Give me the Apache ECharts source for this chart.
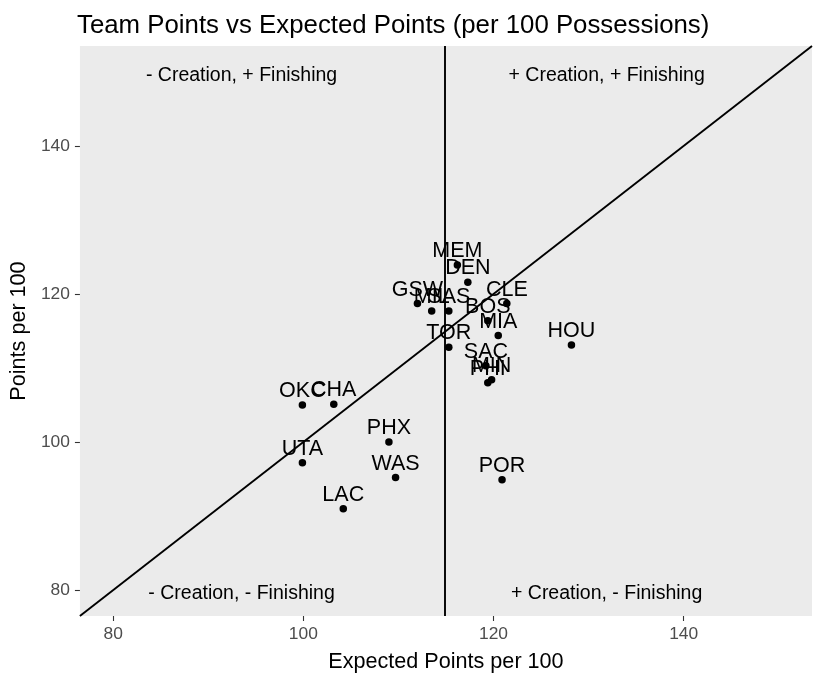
<!DOCTYPE html>
<html>
<head>
<meta charset="utf-8">
<script src="https://cdn.jsdelivr.net/npm/echarts@6/dist/echarts.min.js"></script>
<style>html,body{margin:0;padding:0;background:#fff}#c{width:823px;height:682px}</style>
</head>
<body>
<div id="c"></div>
<script>
// ---- data ----
const teams = ['MEM','DEN','GSW','MIL','SAS','CLE','BOS','MIA','TOR','SAC','PHI','MIN','HOU','POR','OKC','CHA','PHX','UTA','WAS','LAC'];
const expectedPts = [116.2,117.3,112.0,113.5,115.3,121.4,119.4,120.5,115.3,119.2,119.4,119.8,128.2,120.9,99.9,103.2,109.0,99.9,109.7,104.2];
const actualPts   = [123.9,121.6,118.7,117.7,117.7,118.7,116.4,114.4,112.8,110.3,108.0,108.4,113.1,94.9,105.0,105.1,100.0,97.2,95.2,91.0];
const tickValues = [80,100,120,140];
const axisRange = [76.5,153.5];
const creationSplit = 114.9;
const quadTexts = ['- Creation, + Finishing','+ Creation, + Finishing','- Creation, - Finishing','+ Creation, - Finishing'];
const quadX = [93.5,131.9,93.5,131.9];
const quadY = [150,150,80,80];

const FONT = 'Liberation Sans, Arial, sans-serif';
const chart = echarts.init(document.getElementById('c'));

const axisCommon = {
  type:'value', min:axisRange[0], max:axisRange[1],
  axisLine:{show:false},
  splitLine:{show:false},
  axisTick:{show:true, length:5, customValues:tickValues, lineStyle:{color:'#333333', width:1.1}},
  axisLabel:{customValues:tickValues, color:'#4D4D4D', fontSize:17.4, fontFamily:FONT, margin:10},
  nameLocation:'middle',
  nameTextStyle:{color:'#000', fontSize:21.6, fontFamily:FONT}
};

chart.setOption({
  animation:false,
  title:{text:'Team Points vs Expected Points (per 100 Possessions)', left:72, top:8,
    textStyle:{color:'#000', fontSize:25.8, fontWeight:'normal', fontFamily:FONT}},
  grid:{left:77, right:11, top:46, bottom:66, show:true, backgroundColor:'#EBEBEB', borderWidth:0},
  xAxis:Object.assign({}, axisCommon, {name:'Expected Points per 100', nameGap:35}),
  yAxis:Object.assign({}, axisCommon, {name:'Points per 100', nameGap:45}),
  series:[
    {
      type:'scatter', silent:true, symbolSize:0,
      itemStyle:{opacity:1},
      data:quadTexts.map((t,i)=>({name:t, value:[quadX[i], quadY[i]]})),
      label:{show:true, position:[0,4], align:'center', verticalAlign:'middle', formatter:'{b}',
        color:'#000', textBorderWidth:0, fontSize:19.5, fontFamily:FONT},
      markLine:{
        silent:true, symbol:'none', label:{show:false},
        lineStyle:{color:'#000', width:1.9, type:'solid', opacity:1},
        data:[
          {xAxis:creationSplit},
          [{coord:[axisRange[0],axisRange[0]]},{coord:[axisRange[1],axisRange[1]]}]
        ]
      }
    },
    {
      type:'scatter', symbol:'circle', symbolSize:7.5, silent:true,
      itemStyle:{color:'#000', opacity:1},
      data:teams.map((t,i)=>({name:t, value:[expectedPts[i], actualPts[i]]})),
      label:{show:true, position:'top', distance:-1, formatter:'{b}', color:'#000',
        textBorderWidth:0, fontSize:21.5, fontFamily:FONT},
      labelLayout:{hideOverlap:false}
    }
  ]
});
</script>
</body>
</html>
